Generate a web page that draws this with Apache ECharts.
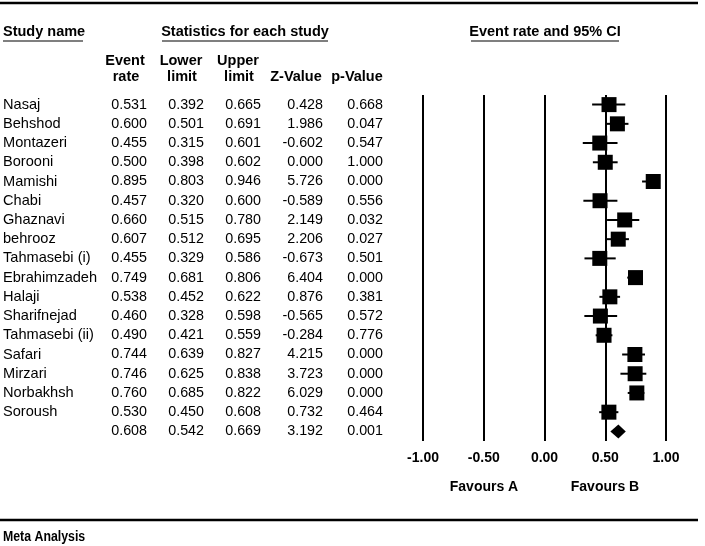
<!DOCTYPE html>
<html>
<head>
<meta charset="utf-8">
<script src="https://cdn.jsdelivr.net/npm/echarts@6/dist/echarts.min.js"></script>
<style>
  html,body{margin:0;padding:0;background:#fff;}
  #main{width:705px;height:546px;}
</style>
</head>
<body>
<div id="main"></div>
<script>
// studies (top to bottom)
var studies = ['Nasaj','Behshod','Montazeri','Borooni','Mamishi','Chabi','Ghaznavi','behrooz','Tahmasebi (i)',
  'Ebrahimzadeh','Halaji','Sharifnejad','Tahmasebi (ii)','Safari','Mirzari','Norbakhsh','Soroush'];
var rate   = [0.531,0.600,0.455,0.500,0.895,0.457,0.660,0.607,0.455,0.749,0.538,0.460,0.490,0.744,0.746,0.760,0.530];
var lower  = [0.392,0.501,0.315,0.398,0.803,0.320,0.515,0.512,0.329,0.681,0.452,0.328,0.421,0.639,0.625,0.685,0.450];
var upper  = [0.665,0.691,0.601,0.602,0.946,0.600,0.780,0.695,0.586,0.806,0.622,0.598,0.559,0.827,0.838,0.822,0.608];
var zValue = [0.428,1.986,-0.602,0.000,5.726,-0.589,2.149,2.206,-0.673,6.404,0.876,-0.565,-0.284,4.215,3.723,6.029,0.732];
var pValue = [0.668,0.047,0.547,1.000,0.000,0.556,0.032,0.027,0.501,0.000,0.381,0.572,0.776,0.000,0.000,0.000,0.464];
// pooled estimate (last row)
var pooledRate = 0.608, pooledLower = 0.542, pooledUpper = 0.669, pooledZ = 3.192, pooledP = 0.001;

var FONT = 'Liberation Sans, Arial, sans-serif';
var chart = echarts.init(document.getElementById('main'));

// table columns incl. pooled row
function col(arr, pooled){
  var out = arr.map(function(v){ return v.toFixed(3); });
  out.push(pooled.toFixed(3));
  return out;
}
var nameCol = studies.concat(['']);
var nRows = nameCol.length;

// one hidden-line y axis per table column, right edge of text at 423 - offset
function colAxis(data, offset){
  return {
    type:'category', data:data, inverse:true, position:'left', offset:offset,
    axisLine:{show:false}, axisTick:{show:false}, splitLine:{show:false},
    axisLabel:{interval:0, margin:0, color:'#000', fontFamily:FONT, fontSize:14.3}
  };
}

var studyData = [], whiskerData = [];
for(var i=0;i<studies.length;i++){
  studyData.push([rate[i], i]);
  whiskerData.push([rate[i], i, lower[i], upper[i]]);
}

// header text helper
function txt(text, x, y, align, size){
  return {type:'text', x:x, y:y, style:{text:text, fill:'#000', font:'bold '+(size||14.5)+'px '+FONT,
    textAlign:align||'center', textVerticalAlign:'middle'}};
}
function hline(x1, x2, y, w){
  return {type:'line', shape:{x1:x1,y1:y,x2:x2,y2:y}, style:{stroke:'#000', lineWidth:w}};
}

var option = {
  animation:false,
  backgroundColor:'#fff',
  grid:{left:423, right:39, top:95, height:346},
  xAxis:{
    type:'value', min:-1, max:1, interval:0.5,
    axisLine:{show:false}, axisTick:{show:false},
    splitLine:{show:true, lineStyle:{color:'#000', width:2}},
    axisLabel:{margin:10, color:'#000', fontWeight:'bold', fontFamily:FONT, fontSize:14,
      formatter:function(v){ return v.toFixed(2); }}
  },
  yAxis:[
    {
      type:'category', data:nameCol, inverse:true, position:'left',
      axisLine:{show:false}, axisTick:{show:false}, splitLine:{show:false},
      axisLabel:{interval:0, margin:420, align:'left', color:'#000', fontFamily:FONT, fontSize:14.6}
    },
    colAxis(col(rate, pooledRate), 276),
    colAxis(col(lower, pooledLower), 219),
    colAxis(col(upper, pooledUpper), 162),
    colAxis(col(zValue, pooledZ), 100),
    colAxis(col(pValue, pooledP), 40)
  ],
  graphic:[
    hline(0, 698, 3, 2.5),
    txt('Study name', 3, 32, 'left'),
    hline(3, 83, 41, 1.2),
    txt('Statistics for each study', 245, 32),
    hline(162, 328, 41, 1.2),
    txt('Event rate and 95% CI', 545, 32),
    hline(471, 619, 41, 1.2),
    txt('Event', 125, 61), txt('rate', 126, 77),
    txt('Lower', 181, 61), txt('limit', 182, 77),
    txt('Upper', 238, 61), txt('limit', 239, 77),
    txt('Z-Value', 296, 77),
    txt('p-Value', 357, 77),
    txt('Favours A', 484, 487, 'center', 14),
    txt('Favours B', 605, 487, 'center', 14),
    hline(0, 698, 520, 2.5),
    {type:'text', x:3, y:537, scaleX:0.88, style:{text:'Meta Analysis', fill:'#000', font:'bold 14px '+FONT,
      textAlign:'left', textVerticalAlign:'middle'}}
  ],
  series:[
    {
      // confidence interval whiskers
      type:'custom', xAxisIndex:0, yAxisIndex:0,
      data:whiskerData,
      encode:{x:0, y:1},
      renderItem:function(params, api){
        var y = api.value(1);
        var a = api.coord([api.value(2), y]);
        var b = api.coord([api.value(3), y]);
        return {type:'line', shape:{x1:a[0], y1:a[1], x2:b[0], y2:b[1]}, style:{stroke:'#000', lineWidth:2}};
      }
    },
    {
      // study point estimates
      type:'scatter', xAxisIndex:0, yAxisIndex:0,
      symbol:'rect', symbolSize:15,
      itemStyle:{color:'#000', opacity:1},
      data:studyData
    },
    {
      // pooled diamond
      type:'custom', xAxisIndex:0, yAxisIndex:0,
      data:[[pooledRate, nRows-1, pooledLower, pooledUpper]],
      encode:{x:0, y:1},
      renderItem:function(params, api){
        var y = api.value(1);
        var c = api.coord([api.value(0), y]);
        var l = api.coord([api.value(2), y]);
        var r = api.coord([api.value(3), y]);
        return {type:'polygon', shape:{points:[[l[0],c[1]],[c[0],c[1]-7],[r[0],c[1]],[c[0],c[1]+7]]},
          style:{fill:'#000'}};
      }
    }
  ]
};
chart.setOption(option);
</script>
</body>
</html>
